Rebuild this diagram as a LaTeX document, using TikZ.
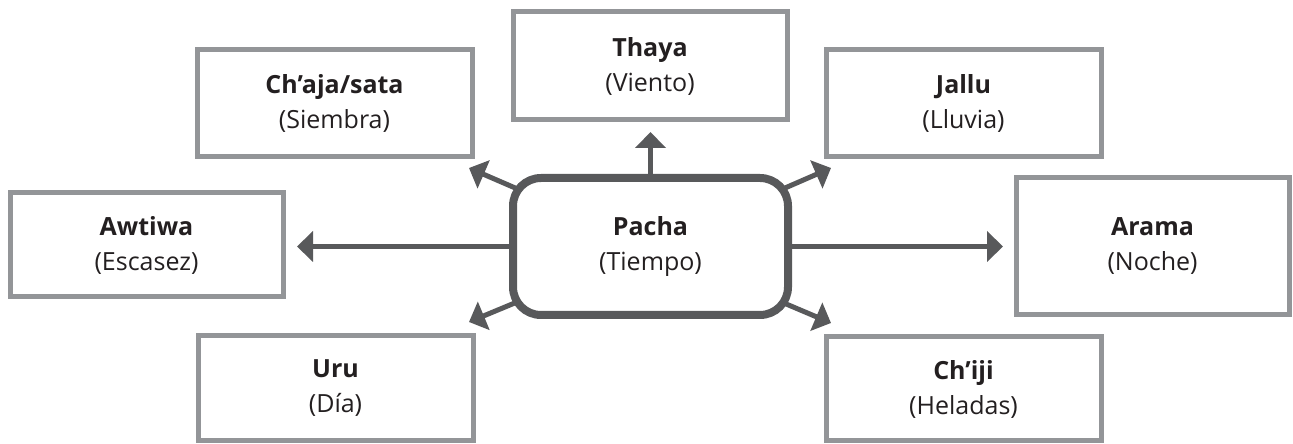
\documentclass[tikz,border=0pt]{standalone}
\usepackage{fontspec}
\setmainfont{Open Sans}
\usetikzlibrary{arrows.meta,backgrounds,calc}
\definecolor{boxgray}{HTML}{939598}
\definecolor{hubgray}{HTML}{58595B}
\definecolor{txtgray}{HTML}{231F20}
\begin{document}
\begin{tikzpicture}[x=1pt,y=1pt,
  term/.style={draw=boxgray, line width=5pt, fill=white, minimum width=275pt, minimum height=107pt,
    align=center, inner sep=0pt, text=txtgray, font=\fontsize{25}{35}\selectfont},
  hub/.style={draw=hubgray, line width=8pt, rounded corners=28pt, fill=white, minimum width=275pt,
    minimum height=137pt, align=center, inner sep=0pt, text=txtgray, font=\fontsize{25}{35}\selectfont},
  arr/.style={draw=hubgray, line width=5pt, -{Triangle[length=16pt,width=30pt]}}]
\useasboundingbox (0,0) rectangle (1293,444);
\node[term] (chaja) at (334.5,340.5) {\textbf{Ch’aja/sata}\\(Siembra)};
\node[term, minimum width=274pt, minimum height=108pt] (thaya) at (650,378) {\textbf{Thaya}\\(Viento)};
\node[term] (jallu) at (963.5,340.5) {\textbf{Jallu}\\(Lluvia)};
\node[term, minimum width=273pt, minimum height=104pt] (awtiwa) at (146.5,199) {\textbf{Awtiwa}\\(Escasez)};
\node[term, minimum width=273pt, minimum height=137pt] (arama) at (1152.5,197.5) {\textbf{Arama}\\(Noche)};
\node[term, minimum height=105pt] (uru) at (335.5,55.5) {\textbf{Uru}\\(Día)};
\node[term, minimum height=104pt] (chiji) at (963.5,55) {\textbf{Ch’iji}\\(Heladas)};
\node[hub] (pacha) at (650.5,197.5) {\textbf{Pacha}\\(Tiempo)};
\coordinate (tthaya) at (650.5,312);
\coordinate (tawtiwa) at (297,197.5);
\coordinate (tarama) at (1003,197.5);
\coordinate (tchaja) at (469,276);
\coordinate (tjallu) at (831,276);
\coordinate (turu) at (469,122);
\coordinate (tchiji) at (831,121);
\begin{pgfonlayer}{background}
\draw[arr] (pacha.center) -- (tthaya);
\draw[arr] (pacha.center) -- (tawtiwa);
\draw[arr] (pacha.center) -- (tarama);
\draw[arr] (pacha.center) -- (tchaja);
\draw[arr] (pacha.center) -- (tjallu);
\draw[arr] (pacha.center) -- (turu);
\draw[arr] (pacha.center) -- (tchiji);
\end{pgfonlayer}
\end{tikzpicture}
\end{document}
